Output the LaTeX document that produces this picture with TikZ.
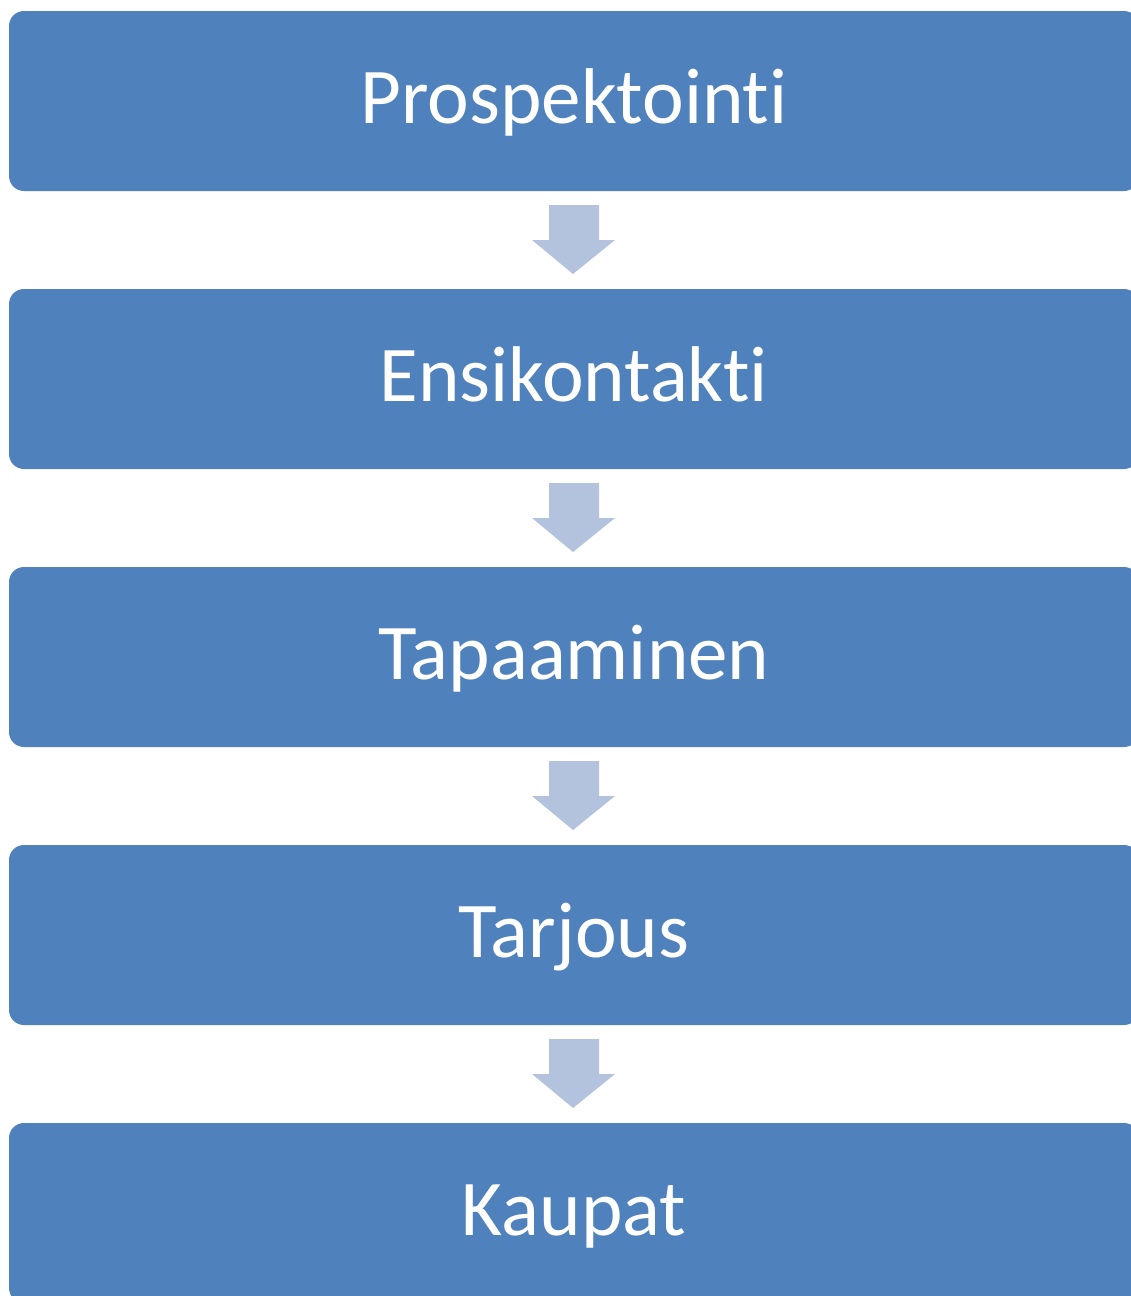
\documentclass[tikz,border=0pt]{standalone}
\usepackage{fontspec}
\setmainfont[Ligatures={NoCommon}]{Carlito}
\definecolor{boxblue}{HTML}{4F81BD}
\definecolor{arrowblue}{HTML}{B3C3DE}
\begin{document}
\begin{tikzpicture}[x=1pt,y=-1pt,
  stagebox/.style={fill=boxblue,draw=none,rounded corners=15pt},
  stagetext/.style={text=white,font=\fontsize{79}{90}\selectfont,anchor=base,inner sep=0pt},
  downarrow/.style={fill=arrowblue,draw=none}]
\useasboundingbox (0,0) rectangle (1131,1296);
\begin{scope}
\clip (0,0) rectangle (1131,1296);
\foreach \i/\t/\n in {0/Prospektointi/a,1/Ensikontakti/b,2/Tapaaminen/c,3/Tarjous/d,4/Kaupat/e}{
  \path[stagebox] (9,11+278*\i) rectangle (1139,191+278*\i);
  \node[stagetext] (\n) at (574,123+278*\i) {\t};
}
\foreach \i/\m in {0/ab,1/bc,2/cd,3/de}{
  \coordinate (\m) at (573,274+278*\i);
  \path[downarrow] (549,205+278*\i) -- (599,205+278*\i) -- (599,240+278*\i) -- (615,240+278*\i)
    -- (\m) -- (532,240+278*\i) -- (549,240+278*\i) -- cycle;
}
\end{scope}
\end{tikzpicture}
\end{document}
